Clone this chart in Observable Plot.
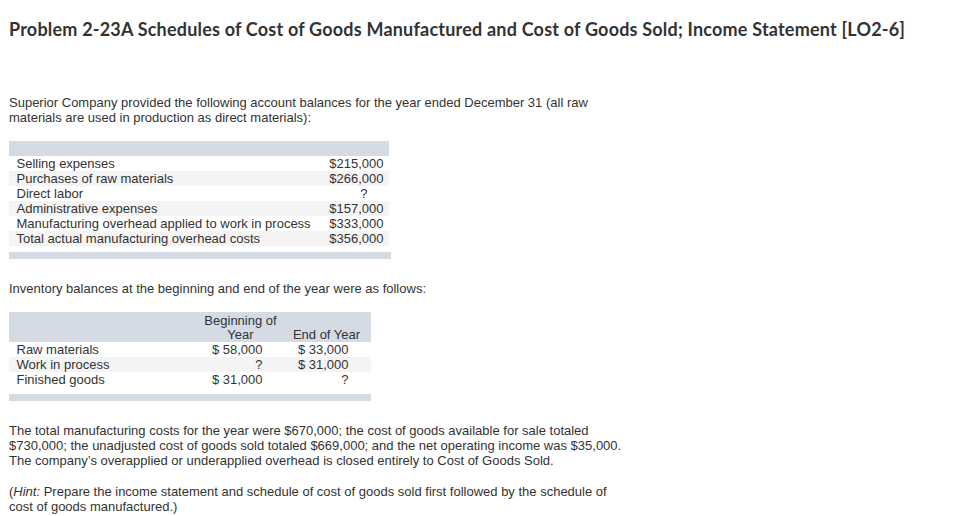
<!DOCTYPE html>
<html>
<head>
<meta charset="utf-8">
<script src="https://cdn.jsdelivr.net/npm/d3@7"></script>
<script src="https://cdn.jsdelivr.net/npm/@observablehq/plot@0.6"></script>
<style>
  html, body { margin: 0; padding: 0; background: #fff; }
  body { width: 980px; height: 516px; position: relative; overflow: hidden;
         font-family: "Liberation Sans", Arial, sans-serif; font-size: 13px; color: #333; }
  .abs { position: absolute; white-space: nowrap; }
  .title { font-family: "Lato", sans-serif; font-weight: 700; font-size: 18px; line-height: 22px; letter-spacing: 0.2px; color: #333; }
  .para { line-height: 15px; }
  .band { position: absolute; background: #d5dbe4; }
</style>
</head>
<body>
<script>
// ---- text content ----
const titleText = "Problem 2-23A Schedules of Cost of Goods Manufactured and Cost of Goods Sold; Income Statement [LO2-6]";
const introLines = [
  "Superior Company provided the following account balances for the year ended December 31 (all raw",
  "materials are used in production as direct materials):"
];
const inventoryIntro = "Inventory balances at the beginning and end of the year were as follows:";
const closingLines = [
  "The total manufacturing costs for the year were $670,000; the cost of goods available for sale totaled",
  "$730,000; the unadjusted cost of goods sold totaled $669,000; and the net operating income was $35,000.",
  "The company\u2019s overapplied or underapplied overhead is closed entirely to Cost of Goods Sold."
];
const hintLines = [
  "Prepare the income statement and schedule of cost of goods sold first followed by the schedule of",
  "cost of goods manufactured.)"
];

// ---- table 1: account balances ----
const accounts = [
  "Selling expenses",
  "Purchases of raw materials",
  "Direct labor",
  "Administrative expenses",
  "Manufacturing overhead applied to work in process",
  "Total actual manufacturing overhead costs"
];
const accountValues = ["$215,000", "$266,000", "?", "$157,000", "$333,000", "$356,000"];

// ---- table 2: inventory balances ----
const inventoryItems = ["Raw materials", "Work in process", "Finished goods"];
const beginningValues = ["$ 58,000", "?", "$ 31,000"];
const endValues = ["$ 33,000", "$ 31,000", "?"];
const headerLine1 = [{col: "begin", text: "Beginning of"}];
const headerLine2 = [{col: "begin", text: "Year"}, {col: "end", text: "End of Year"}];

const headerFill = "#d5dbe4";
const stripeFill = "#f4f4f4";
const textFill = "#333";
const font = {fontSize: 13, fontFamily: "Liberation Sans, Arial, sans-serif", fill: textFill};

function add(el, left, top, cls) {
  el.className = "abs" + (cls ? " " + cls : "");
  el.style.left = left + "px";
  el.style.top = top + "px";
  document.body.appendChild(el);
  return el;
}
function para(lines, left, top, prefixHTML) {
  const d = document.createElement("div");
  lines.forEach((l, i) => {
    const s = document.createElement("div");
    if (i === 0 && prefixHTML) s.innerHTML = prefixHTML;
    s.appendChild(document.createTextNode(l));
    d.appendChild(s);
  });
  return add(d, left, top, "para");
}

// title
const t = document.createElement("div"); t.textContent = titleText; add(t, 9, 18, "title");
para(introLines, 9, 95);
para([inventoryIntro], 9, 281);
para(closingLines, 9, 423);
para(hintLines, 9, 484, "(<i>Hint:</i> ");

// ---- table 1 plot ----
const rows1 = accounts.map((label, i) => ({label, value: accountValues[i], shaded: i % 2 === 1}));
const plot1 = Plot.plot({
  width: 400, height: 105,
  marginTop: 0, marginBottom: 0, marginLeft: 9, marginRight: 11,
  style: {background: "transparent", overflow: "visible"},
  x: {axis: null},
  y: {type: "band", domain: ["__h", ...accounts], padding: 0, axis: null},
  marks: [
    Plot.cell(["__h"], {y: d => d, fill: headerFill}),
    Plot.cell(rows1.filter(d => d.shaded), {y: "label", fill: stripeFill}),
    Plot.text(rows1, {y: "label", text: "label", frameAnchor: "left", textAnchor: "start", dx: 7, ...font}),
    Plot.text(rows1.filter(d => d.value !== "?"), {y: "label", text: "value", frameAnchor: "right", textAnchor: "end", dx: -6, ...font}),
    Plot.text(rows1.filter(d => d.value === "?"), {y: "label", text: "value", frameAnchor: "right", textAnchor: "end", dx: -22, ...font})
  ]
});
const w1 = document.createElement("div"); w1.appendChild(plot1); add(w1, 0, 141);
const f1 = document.createElement("div"); f1.className = "band";
Object.assign(f1.style, {left: "9px", top: "252px", width: "382px", height: "7px"});
document.body.appendChild(f1);

// ---- table 2 plot ----
const rows2 = inventoryItems.map((label, i) => ({label, begin: beginningValues[i], end: endValues[i], shaded: i % 2 === 1}));
const values2 = rows2.flatMap(d => [{label: d.label, col: "begin", text: d.begin}, {label: d.label, col: "end", text: d.end}]);
const plot2 = Plot.plot({
  width: 380, height: 75,
  marginTop: 0, marginBottom: 0, marginLeft: 9, marginRight: 9,
  style: {background: "transparent", overflow: "visible"},
  x: {type: "point", domain: ["begin", "end"], range: [262, 348], padding: 0, axis: null},
  y: {type: "band", domain: ["__h1", "__h2", ...inventoryItems], padding: 0, axis: null},
  marks: [
    Plot.cell(["__h1", "__h2"], {y: d => d, fill: headerFill}),
    Plot.cell(rows2.filter(d => d.shaded), {y: "label", fill: stripeFill}),
    Plot.text(headerLine1, {x: "col", y: () => "__h1", text: "text", textAnchor: "middle", dx: -22, dy: 1, ...font}),
    Plot.text(headerLine2, {x: "col", y: () => "__h2", text: "text", textAnchor: "middle", dx: -22, dy: 0, ...font}),
    Plot.text(rows2, {y: "label", text: "label", frameAnchor: "left", textAnchor: "start", dx: 7, ...font}),
    Plot.text(values2, {x: "col", y: "label", text: "text", textAnchor: "end", ...font})
  ]
});
const w2 = document.createElement("div"); w2.appendChild(plot2); add(w2, 0, 312);
const f2 = document.createElement("div"); f2.className = "band";
Object.assign(f2.style, {left: "9px", top: "394px", width: "362px", height: "7px"});
document.body.appendChild(f2);
</script>
</body>
</html>
